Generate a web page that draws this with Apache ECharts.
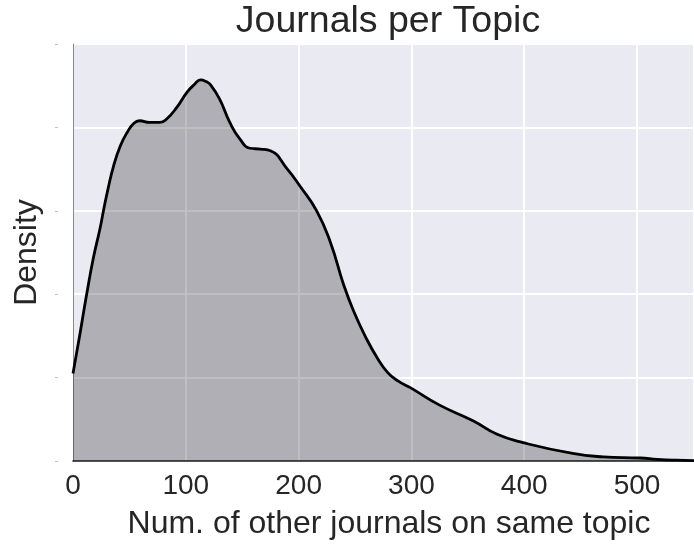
<!DOCTYPE html>
<html>
<head>
<meta charset="utf-8">
<script src="https://cdn.jsdelivr.net/npm/echarts@6/dist/echarts.min.js"></script>
<style>
  html, body { margin: 0; padding: 0; background: #ffffff; }
  #chart { width: 694px; height: 545px; }
</style>
</head>
<body>
<div id="chart"></div>
<script>
// Data
const journalCounts = [0, 6, 12, 18, 24, 27, 31, 36, 42, 48, 54, 59, 68, 77, 83, 92, 101, 108, 113, 118, 122, 130, 139, 148, 157, 166, 175, 190, 201, 216, 228, 240, 249, 260, 270, 279, 288, 299, 325, 355, 376, 399, 443, 470, 503, 518, 535, 559];
const densities = [0.00105, 0.00151, 0.00199, 0.00243, 0.00279, 0.00300, 0.00326, 0.00354, 0.00378, 0.00394, 0.00405, 0.00408, 0.00406, 0.00406, 0.00410, 0.00424, 0.00442, 0.00452, 0.00457, 0.00455, 0.00451, 0.00434, 0.00406, 0.00386, 0.00375, 0.00374, 0.00372, 0.00350, 0.00330, 0.00300, 0.00263, 0.00211, 0.00179, 0.00147, 0.00123, 0.00106, 0.00096, 0.00088, 0.00067, 0.00048, 0.00032, 0.00022, 0.00009, 0.00005, 0.000036, 0.00002, 0.00001, 0.000003];
const xTickLabels = [0, 100, 200, 300, 400, 500];
const titleText = 'Journals per Topic';
const xName = 'Num. of other journals on same topic';
const yName = 'Density';

const FONT = 'Liberation Sans, Arial, sans-serif';
const chart = echarts.init(document.getElementById('chart'), null, { renderer: 'canvas' });

const option = {
  animation: false,
  backgroundColor: '#ffffff',
  title: {
    text: titleText,
    left: 388,
    top: 3,
    padding: 0,
    textAlign: 'center',
    textStyle: { fontFamily: FONT, fontSize: 37.5, fontWeight: 'normal', color: '#262626' }
  },
  grid: {
    left: 73, top: 44, width: 621, height: 419.3,
    show: true, backgroundColor: '#eaeaf2',
    borderColor: '#7a7a7a', borderWidth: 1,
    containLabel: false
  },
  xAxis: {
    type: 'value',
    min: 0, max: 550.5, interval: 100,
    name: xName,
    nameLocation: 'middle',
    nameGap: 47,
    nameTextStyle: { fontFamily: FONT, fontSize: 32, color: '#262626', padding: [0, 0, 0, 11] },
    axisLine: { show: true, lineStyle: { color: '#1a1a1a', width: 1.5 } },
    axisTick: { show: false },
    axisLabel: {
      margin: 11, fontFamily: FONT, fontSize: 28, color: '#262626',
      showMaxLabel: false,
      formatter: v => (xTickLabels.indexOf(v) >= 0 ? String(v) : '')
    },
    splitLine: { show: true, lineStyle: { color: '#ffffff', width: 2 } }
  },
  yAxis: [
    {
      type: 'value',
      min: 0, max: 0.005, interval: 0.001,
      name: yName,
      nameLocation: 'middle',
      nameGap: 30,
      nameRotate: 90,
      nameTextStyle: { fontFamily: FONT, fontSize: 32, color: '#262626' },
      axisLine: { show: true, lineStyle: { color: '#8a8a8a', width: 1 } },
      axisTick: { show: false },
      axisLabel: { show: false },
      splitLine: { show: true, lineStyle: { color: '#ffffff', width: 2 } }
    },
    {
      type: 'value',
      position: 'left',
      offset: 15,
      min: 0, max: 0.005, interval: 0.001,
      axisLine: { show: false },
      axisTick: { show: true, length: 3, inside: false, lineStyle: { color: '#c0c0c0', width: 1 } },
      axisLabel: { show: false },
      splitLine: { show: false }
    }
  ],
  series: [{
    type: 'line',
    data: journalCounts.map((x, i) => [x, densities[i]]),
    smooth: 0.5,
    showSymbol: false,
    symbol: 'none',
    clip: true,
    lineStyle: { color: '#000000', width: 2.8 },
    areaStyle: { color: 'rgba(0,0,0,0.25)', opacity: 1, origin: 'start' }
  }]
};
chart.setOption(option);
</script>
</body>
</html>
